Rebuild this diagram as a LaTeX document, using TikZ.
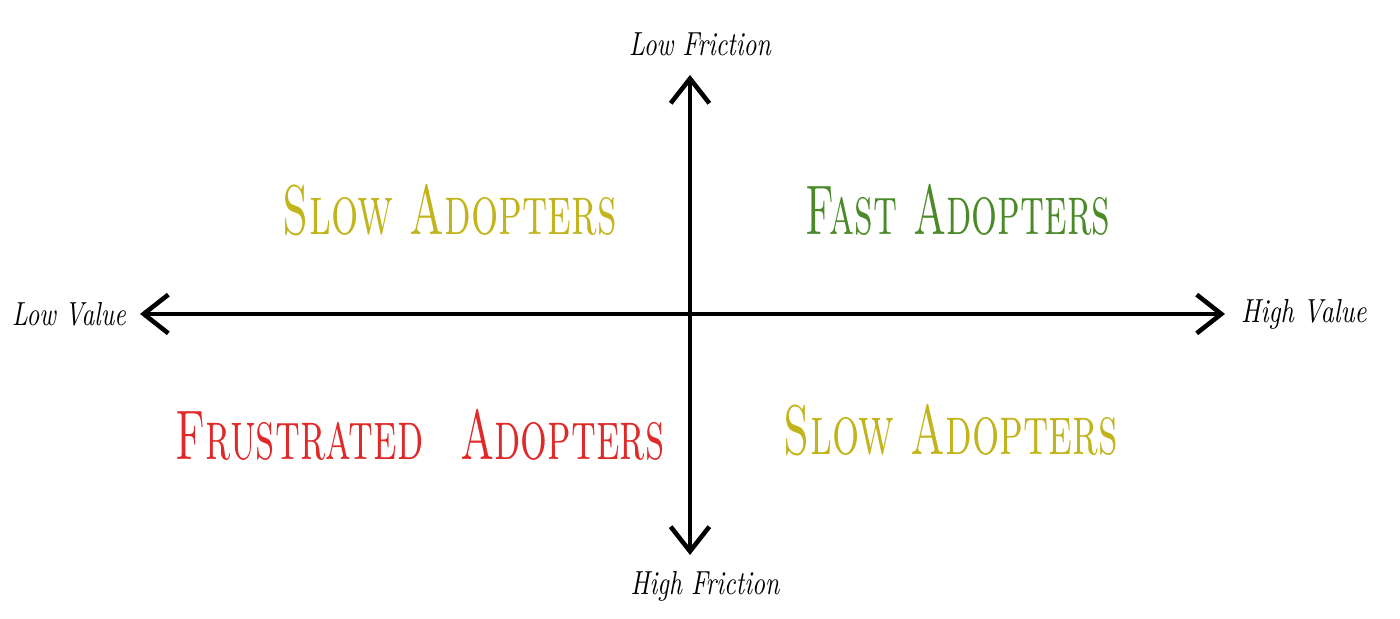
\documentclass[tikz,border=0pt]{standalone}
\usepackage{graphicx}
\usetikzlibrary{positioning,arrows.meta}
\definecolor{slowcol}{HTML}{C2B41C}
\definecolor{fastcol}{HTML}{4A8A28}
\definecolor{frustcol}{HTML}{E02A2A}
\newcommand{\narrow}[2]{\scalebox{#1}[1]{#2}}
\tikzset{
	axis/.style={line width=1.1pt, -{Straight Barb[length=7pt,width=11pt,line width=1.3pt]}},
	axislabel/.style={font=\itshape\fontsize{9.5}{11}\selectfont, inner sep=1pt},
	quadrant/.style={font=\scshape\fontsize{20}{24}\selectfont, inner sep=0pt},
}
\begin{document}
\begin{tikzpicture}[
		node distance=0.1cm,
	]
		\useasboundingbox (0,0) rectangle (14,6.19);
		\coordinate (origin) at (6.90,3.05);
		\coordinate (west) at (1.40,3.05);
		\coordinate (east) at (12.25,3.05);
		\coordinate (north) at (6.90,5.44);
		\coordinate (south) at (6.90,0.64);
		
		\draw [axis] (origin) -- (west);
		\draw [axis] (origin) -- (east);
		\draw [axis] (origin) -- (north);
		\draw [axis] (origin) -- (south);
		
		\node [axislabel, left=of west] (lowvalue) {\narrow{0.75}{Low Value}};
		\node [axislabel, right=0.12cm of east] (highvalue) {\narrow{0.78}{High Value}};
		\node [axislabel, above=0.15cm of north, xshift=0.1cm] (lowfriction) {\narrow{0.76}{Low Friction}};
		\node [axislabel, below=0.12cm of south, xshift=0.15cm] (highfriction) {\narrow{0.76}{High Friction}};
		
		\node [quadrant, text=slowcol] (slowtop) at (4.50,4.09) {\narrow{0.61}{Slow Adopters}};
		\node [quadrant, text=fastcol] (fast) at (9.58,4.09) {\narrow{0.58}{Fast Adopters}};
		\node [quadrant, text=frustcol] (frustrated) at (4.20,1.84) {\narrow{0.6}{Frustrated\hspace{0.5em} Adopters}};
		\node [quadrant, text=slowcol] (slowbottom) at (9.51,1.89) {\narrow{0.61}{Slow Adopters}};
	\end{tikzpicture}
\end{document}
